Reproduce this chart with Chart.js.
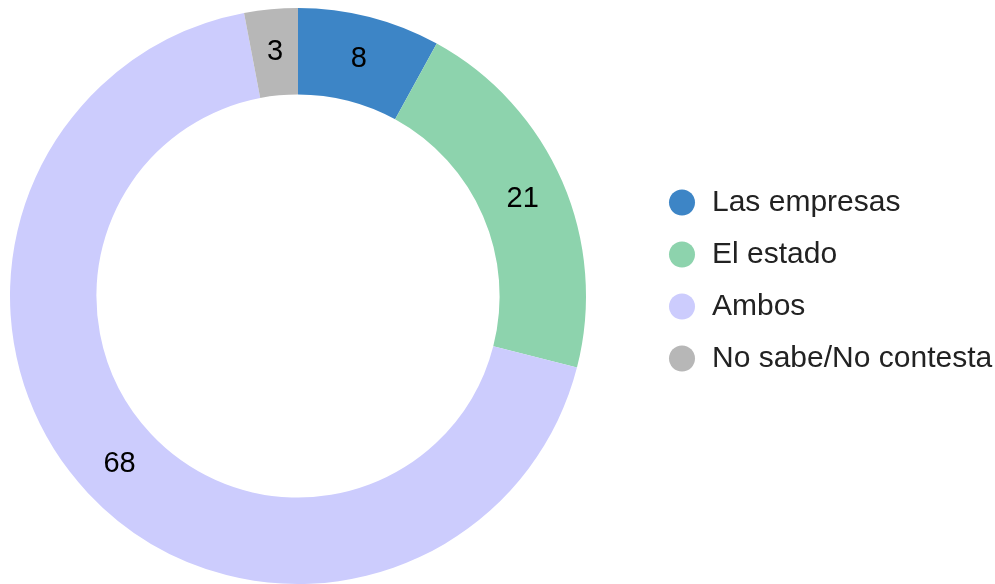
<!DOCTYPE html>
<html>
<head>
<meta charset="utf-8">
<script src="https://cdn.jsdelivr.net/npm/chart.js@4"></script>
<style>
  html, body { margin: 0; padding: 0; background: #ffffff; }
  #wrap { position: relative; width: 995px; height: 584px; }
</style>
</head>
<body>
<div id="wrap"><canvas id="c"></canvas></div>
<script>
const categories = ['Las empresas', 'El estado', 'Ambos', 'No sabe/No contesta'];
const values = [8, 21, 68, 3];
const colors = ['#3d85c6', '#8dd3ad', '#ccccfd', '#b7b7b7'];

const FONT = '"Liberation Sans", Arial, Helvetica, sans-serif';

// Place the ring and the legend where the reference has them
const placeLayout = {
  id: 'placeLayout',
  afterLayout(chart) {
    const a = chart.chartArea;
    a.left = 10; a.top = 8; a.right = 586; a.bottom = 584;
    a.width = a.right - a.left; a.height = a.bottom - a.top;
    const lg = chart.legend;
    if (lg) {
      lg.left = 645; lg.top = 165.5; lg.right = 995; lg.bottom = 584;
      lg.width = lg.right - lg.left; lg.height = lg.bottom - lg.top;
    }
  }
};

// Value labels in the middle of each slice
const sliceLabels = {
  id: 'sliceLabels',
  afterDatasetsDraw(chart) {
    const ctx = chart.ctx;
    const meta = chart.getDatasetMeta(0);
    const data = chart.data.datasets[0].data;
    ctx.save();
    ctx.font = '29px ' + FONT;
    ctx.fillStyle = '#000000';
    ctx.textAlign = 'center';
    ctx.textBaseline = 'middle';
    meta.data.forEach((arc, i) => {
      const p = arc.tooltipPosition();
      ctx.fillText(String(data[i]), p.x, p.y);
    });
    ctx.restore();
  }
};

new Chart(document.getElementById('c'), {
  type: 'doughnut',
  data: {
    labels: categories,
    datasets: [{
      data: values,
      backgroundColor: colors,
      borderWidth: 0,
      hoverOffset: 0
    }]
  },
  options: {
    responsive: true,
    maintainAspectRatio: false,
    animation: false,
    cutout: '70%',
    layout: { padding: { left: 10, top: 8, right: 0, bottom: 0 } },
    plugins: {
      tooltip: { enabled: false },
      legend: {
        position: 'right',
        align: 'start',
        labels: {
          usePointStyle: true,
          pointStyle: 'circle',
          boxWidth: 30,
          boxHeight: 18.4,
          padding: 22,
          color: '#222222',
          font: { family: FONT, size: 30 }
        }
      }
    }
  },
  plugins: [placeLayout, sliceLabels]
});
</script>
</body>
</html>
